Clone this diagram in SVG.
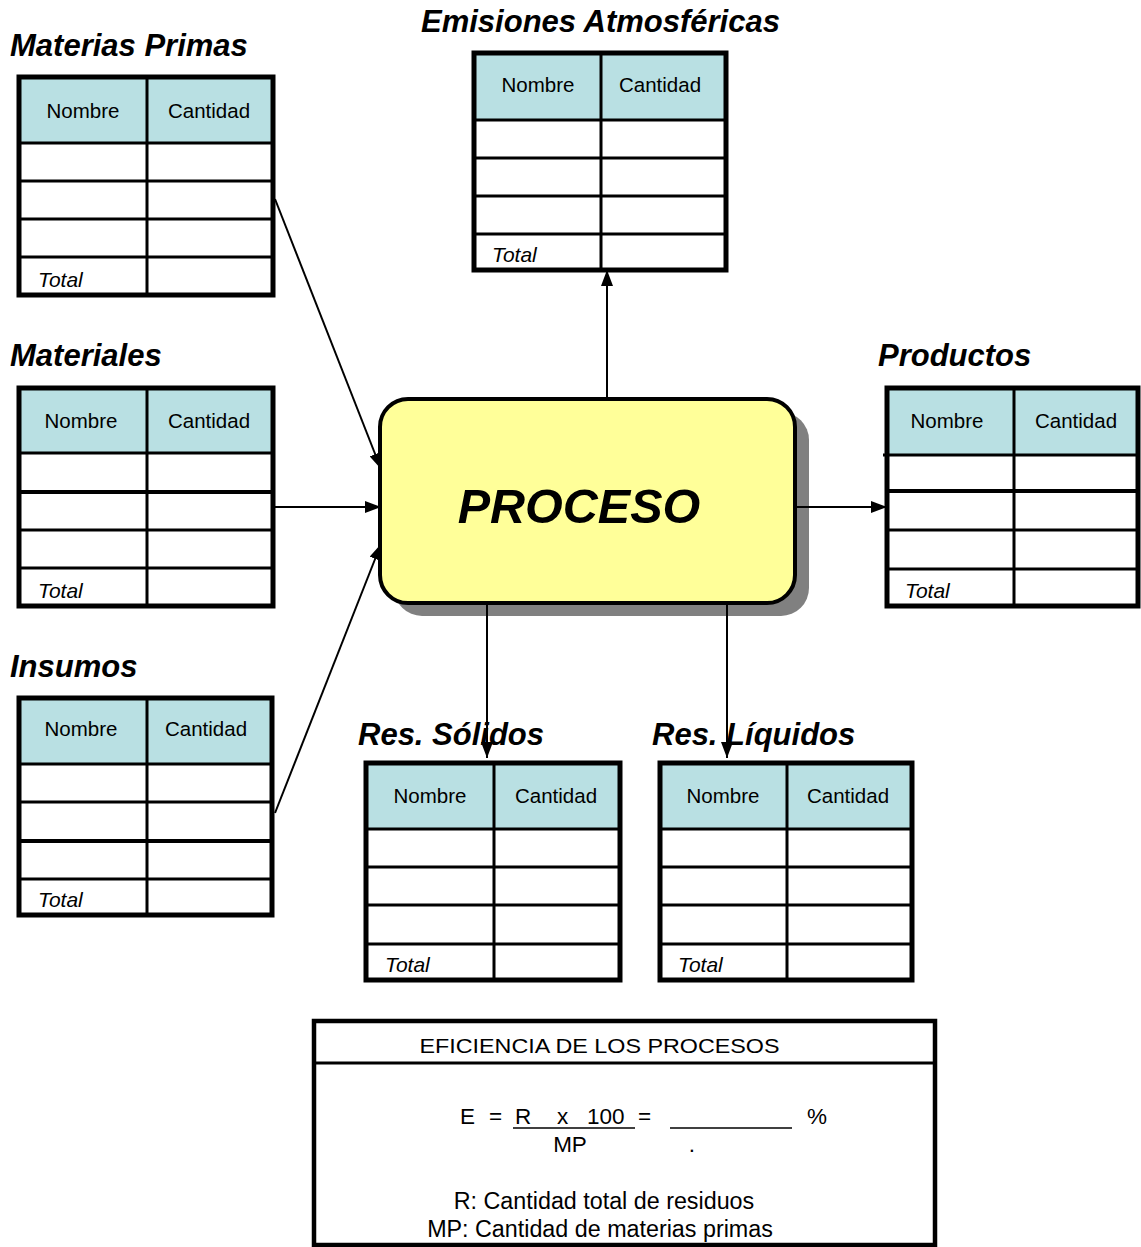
<svg xmlns="http://www.w3.org/2000/svg" width="1141" height="1247" viewBox="0 0 1141 1247">
<style>
.hdr{fill:#B9E0E3}
.cell{fill:#fff}
.grid{stroke:#000;stroke-width:3;fill:none}
.frame{fill:none;stroke:#000;stroke-width:5}
.th{font-family:"Liberation Sans",Arial,sans-serif;font-size:20.5px;text-anchor:middle;fill:#000}
.tot{font-family:"Liberation Sans",Arial,sans-serif;font-style:italic;font-size:21px;fill:#000}
.title{font-family:"Liberation Sans",Arial,sans-serif;font-weight:bold;font-style:italic;font-size:31px;fill:#000}
.conn{stroke:#000;stroke-width:2;fill:none}
.ft{font-family:"Liberation Sans",Arial,sans-serif;font-size:22.5px;fill:#000}
.fl{font-family:"Liberation Sans",Arial,sans-serif;font-size:23.3px;fill:#000;text-anchor:middle}
</style>
<defs>
<marker id="arr" viewBox="0 0 16 12" refX="16" refY="6" markerWidth="16" markerHeight="12" markerUnits="userSpaceOnUse" orient="auto">
<path d="M0,0 L16,6 L0,12 z" fill="#000"/>
</marker>
</defs>
<rect width="1141" height="1247" fill="#fff"/>

<g id="materias-primas">
<text class="title" x="10" y="56">Materias Primas</text>
<rect class="hdr" x="19" y="77" width="254" height="66"/>
<rect class="cell" x="19" y="143" width="254" height="152"/>
<path class="grid" d="M19,143H273M19,181H273M19,219H273M19,257H273M147,77V295"/>
<rect class="frame" x="19" y="77" width="254" height="218"/>
<text class="th" x="83" y="117.5">Nombre</text>
<text class="th" x="209" y="117.5">Cantidad</text>
<text class="tot" x="38" y="287">Total</text>
</g>

<g id="materiales">
<text class="title" x="10" y="366">Materiales</text>
<rect class="hdr" x="19" y="388" width="254" height="65"/>
<rect class="cell" x="19" y="453" width="254" height="153"/>
<path class="grid" d="M19,453H273M19,530H273M19,568H273M147,388V606"/>
<path class="grid" style="stroke-width:4" d="M19,492H273"/>
<rect class="frame" x="19" y="388" width="254" height="218"/>
<text class="th" x="81" y="428">Nombre</text>
<text class="th" x="209" y="428">Cantidad</text>
<text class="tot" x="38" y="598">Total</text>
</g>

<g id="insumos">
<text class="title" x="10" y="677">Insumos</text>
<rect class="hdr" x="19" y="698" width="253" height="66"/>
<rect class="cell" x="19" y="764" width="253" height="151"/>
<path class="grid" d="M19,764H272M19,802H272M19,879H272M147,698V915"/>
<path class="grid" style="stroke-width:4" d="M19,841H272"/>
<rect class="frame" x="19" y="698" width="253" height="217"/>
<text class="th" x="81" y="736">Nombre</text>
<text class="th" x="206" y="736">Cantidad</text>
<text class="tot" x="38" y="907">Total</text>
</g>

<g id="emisiones">
<text class="title" x="421" y="32">Emisiones Atmosféricas</text>
<rect class="hdr" x="474" y="53" width="252" height="67"/>
<rect class="cell" x="474" y="120" width="252" height="150"/>
<path class="grid" d="M474,120H726M474,158H726M474,196H726M474,234H726M601,53V270"/>
<rect class="frame" x="474" y="53" width="252" height="217"/>
<text class="th" x="538" y="92">Nombre</text>
<text class="th" x="660" y="92">Cantidad</text>
<text class="tot" x="492" y="262">Total</text>
</g>

<g id="productos">
<text class="title" x="878" y="366">Productos</text>
<rect class="hdr" x="887" y="388" width="251" height="67"/>
<rect class="cell" x="887" y="455" width="251" height="151"/>
<path class="grid" d="M883,455H1138M887,530H1138M887,569H1138M1014,388V606"/>
<path class="grid" style="stroke-width:4" d="M887,491H1138"/>
<rect class="frame" x="887" y="388" width="251" height="218"/>
<text class="th" x="947" y="428">Nombre</text>
<text class="th" x="1076" y="428">Cantidad</text>
<text class="tot" x="905" y="598">Total</text>
</g>

<g id="res-solidos">
<text class="title" x="358" y="745">Res. Sólidos</text>
<rect class="hdr" x="366" y="763" width="254" height="66"/>
<rect class="cell" x="366" y="829" width="254" height="151"/>
<path class="grid" d="M366,829H620M366,867H620M366,905H620M366,944H620M494,763V980"/>
<rect class="frame" x="366" y="763" width="254" height="217"/>
<text class="th" x="430" y="803">Nombre</text>
<text class="th" x="556" y="803">Cantidad</text>
<text class="tot" x="385" y="972">Total</text>
</g>

<g id="res-liquidos">
<text class="title" x="652" y="745">Res. Líquidos</text>
<rect class="hdr" x="660" y="763" width="252" height="66"/>
<rect class="cell" x="660" y="829" width="252" height="151"/>
<path class="grid" d="M660,829H912M660,867H912M660,905H912M660,944H912M787,763V980"/>
<rect class="frame" x="660" y="763" width="252" height="217"/>
<text class="th" x="723" y="803">Nombre</text>
<text class="th" x="848" y="803">Cantidad</text>
<text class="tot" x="678" y="972">Total</text>
</g>

<g id="proceso">
<rect x="394" y="412" width="415" height="204" rx="28" fill="#808080"/>
<rect x="380" y="399" width="415" height="204" rx="28" fill="#FFFF99" stroke="#000" stroke-width="4"/>
<text x="579" y="523" text-anchor="middle" style="font-family:'Liberation Sans',Arial,sans-serif;font-weight:bold;font-style:italic;font-size:48.5px">PROCESO</text>
</g>

<g id="connectors">
<line class="conn" x1="275" y1="199" x2="381" y2="469" marker-end="url(#arr)"/>
<line class="conn" x1="275" y1="507" x2="381" y2="507" marker-end="url(#arr)"/>
<line class="conn" x1="275" y1="813" x2="381" y2="544" marker-end="url(#arr)"/>
<line class="conn" x1="607" y1="399" x2="607" y2="270" marker-end="url(#arr)"/>
<line class="conn" x1="797" y1="507" x2="887" y2="507" marker-end="url(#arr)"/>
<line class="conn" x1="487" y1="605" x2="487" y2="758" marker-end="url(#arr)"/>
<line class="conn" x1="727" y1="605" x2="727" y2="758" marker-end="url(#arr)"/>
</g>

<g id="eficiencia">
<rect x="314" y="1021" width="621" height="224" fill="#fff" stroke="#000" stroke-width="4.5"/>
<line x1="314" y1="1063" x2="935" y2="1063" stroke="#000" stroke-width="3"/>
<text class="ft" x="599.5" y="1053" text-anchor="middle" textLength="360" lengthAdjust="spacingAndGlyphs" style="font-size:21px">EFICIENCIA DE LOS PROCESOS</text>
<text class="ft" x="460" y="1124">E</text>
<text class="ft" x="489" y="1124">=</text>
<text class="ft" x="515" y="1124">R</text>
<text class="ft" x="557" y="1124">x</text>
<text class="ft" x="587" y="1124">100</text>
<text class="ft" x="638" y="1124">=</text>
<text class="ft" x="807" y="1124">%</text>
<line x1="513" y1="1128" x2="635" y2="1128" stroke="#000" stroke-width="1.5"/>
<line x1="670" y1="1128" x2="792" y2="1128" stroke="#000" stroke-width="1.5"/>
<text class="ft" x="570" y="1152" text-anchor="middle">MP</text>
<text class="ft" x="692" y="1152" text-anchor="middle">.</text>
<text class="fl" x="604" y="1209">R: Cantidad total de residuos</text>
<text class="fl" x="600" y="1237">MP: Cantidad de materias primas</text>
</g>
</svg>
